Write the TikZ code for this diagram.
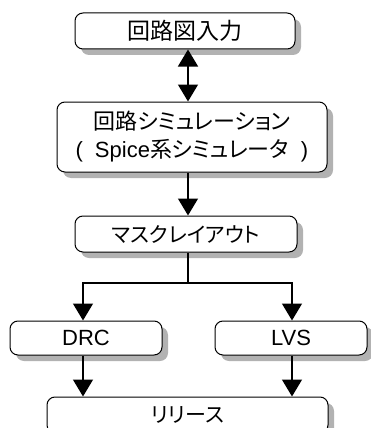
\documentclass[tikz,border=0pt]{standalone}
\usepackage{fontspec}
\setmainfont{Liberation Sans}
\newfontfamily\jp[RawFeature=+palt]{Noto Sans CJK JP}
\usetikzlibrary{arrows.meta,shadows,calc}
\begin{document}
\begin{tikzpicture}[x=1pt,y=1pt,
  box/.style={draw, line width=1pt, rounded corners=8pt, fill=white,
    drop shadow={shadow xshift=6pt,shadow yshift=-6pt,fill=black!30,opacity=1},
    inner sep=0pt, font=\fontsize{21}{28}\selectfont, align=center},
  conn/.style={line width=1.4pt, -{Triangle[width=20pt,length=17pt]}},
  dconn/.style={line width=1.4pt, {Triangle[width=20pt,length=17pt]}-{Triangle[width=20pt,length=17pt]}}]
\clip (0,0) rectangle (371,-428);
\coordinate (col) at (188,0);
\coordinate (lx) at (83,0);
\coordinate (rx) at (292,0);
\node[box, minimum width=220pt, minimum height=36pt, font=\fontsize{23}{28}\selectfont] (b1) at (185,-31) {\jp 回路図入力};
\node[box, minimum width=270pt, minimum height=70pt, font=\fontsize{22}{28}\selectfont] (b2) at (192,-137) {{\jp 回路シミュレーション}\\(\hspace{12pt}Spice{\jp 系シミュレータ}\hspace{12pt})};
\node[box, minimum width=222pt, minimum height=36pt] (b3) at (186,-234) {\jp マスクレイアウト};
\node[box, minimum width=152pt, minimum height=34pt, font=\fontsize{22}{28}\selectfont] (drc) at (86,-338) {DRC};
\node[box, minimum width=152pt, minimum height=34pt, font=\fontsize{22}{28}\selectfont] (lvs) at (291,-338) {LVS};
\node[box, minimum width=281pt, minimum height=36pt] (rel) at (187.5,-415) {\jp リリース};
\coordinate (split) at (188,-283);
\draw[dconn] (b1.south -| col) -- (b2.north -| col);
\draw[conn] (b2.south -| col) -- (b3.north -| col);
\draw[line width=1.4pt] (b3.south -| col) -- (split);
\draw[conn] (split) -| (drc.north -| lx);
\draw[conn] (split) -| (lvs.north -| rx);
\draw[conn] (drc.south -| lx) -- (rel.north -| lx);
\draw[conn] (lvs.south -| rx) -- (rel.north -| rx);
\end{tikzpicture}
\end{document}
